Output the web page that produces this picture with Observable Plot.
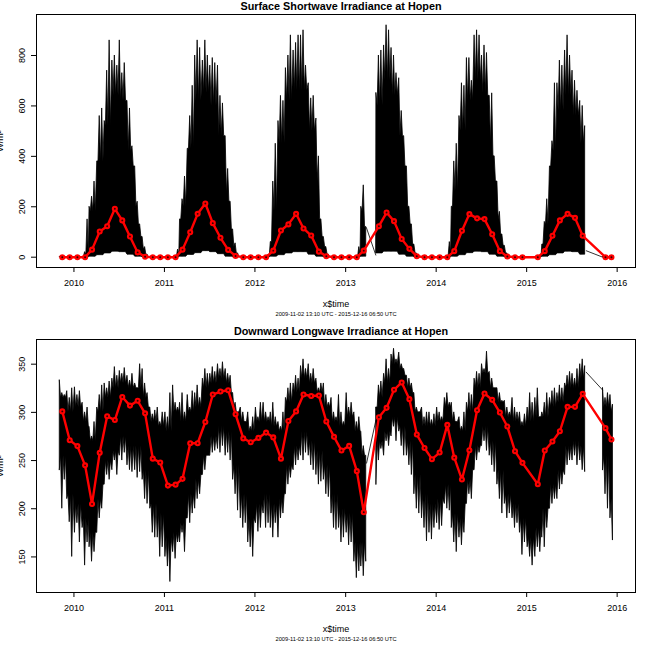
<!DOCTYPE html>
<html><head><meta charset="utf-8">
<script src="https://cdn.jsdelivr.net/npm/d3@7"></script>
<script src="https://cdn.jsdelivr.net/npm/@observablehq/plot@0.6"></script>
<style>body{margin:0;background:#fff;} svg{display:block}</style>
</head><body>
<script>
// tips of the dense black series are read on days 5/15/25 of each month,
// the solid "core" between the tips is read once per month
const sampleDays = [5, 15, 25];
const coreDays = [10, 20, 30];
const firstMonth = {2009: 10}; // 2009 starts in November, other years in January
const years = [2009, 2010, 2011, 2012, 2013, 2014, 2015];

// ---- Surface shortwave: spike tips (3 samples / month) ----
const swHi2009 = [0,0,0, 0,0,0];
const swHi2010 = [0,0,0, 0,20,150, 200,240,300, 380,560,590, 540,740,860, 780,800,760, 860,730,770, 620,590,440, 360,220,130, 80,40,10, 0,0,0, 0,0,0];
const swHi2011 = [0,0,0, 0,0,30, 150,230,320, 430,560,680, 800,860,830, 780,860,800, 760,790,770, 760,640,610, 480,350,220, 110,55,15, 0,0,0, 0,0,0];
const swHi2012 = [0,0,0, 0,0,10, 60,300,450, 540,640,620, 750,800,880, 820,850,880, 880,900,760, 690,630,640, 550,400,150, 80,40,10, 0,0,0, 0,0,0];
const swHi2013 = [0,0,0, 0,0,40, 200,285,120, null,null,null, 650,800,820, 840,920,900, 830,800,730, 710,580,480, 360,200,130, 50,15,0, 0,0,0, 0,0,0];
const swHi2014 = [0,0,0, 0,0,60, 200,380,450, 560,690,680, 790,790,700, 880,900,880, 800,840,810, 640,650,400, 300,180,90, 45,15,0, 0,0,0, 0,0,0];
const swHi2015 = [0,0,0, 0,0,0, 50,140,230, 360,460,690, 690,780,760, 820,880,800, 740,700,660, 620,600,520, null,null,null, null,null,null, 0,0,0, 0,0];
// shortwave solid core top (monthly)
const swCore2009 = [0,0];
const swCore2010 = [0,10,180,380,520,640,620,420,200,30,0,0];
const swCore2011 = [0,10,200,430,620,650,600,480,250,40,0,0];
const swCore2012 = [0,5,180,450,620,660,660,500,300,40,0,0];
const swCore2013 = [0,10,180,null,600,700,640,480,220,20,0,0];
const swCore2014 = [0,20,260,500,620,700,650,450,150,20,0,0];
const swCore2015 = [0,0,130,420,580,640,560,450,null,null,0,0];
// shortwave lower edge (monthly)
const swLo2009 = [0,0];
const swLo2010 = [0,0,2,8,15,22,20,10,2,0,0,0];
const swLo2011 = [0,0,2,9,16,24,20,12,2,0,0,0];
const swLo2012 = [0,0,2,8,15,20,20,10,2,0,0,0];
const swLo2013 = [0,0,2,null,15,22,22,10,2,0,0,0];
const swLo2014 = [0,0,2,8,16,22,20,10,2,0,0,0];
const swLo2015 = [0,0,2,8,15,22,20,10,null,null,0,0];

// ---- Downward longwave: spike tips, upper / lower (3 samples / month) ----
const lwHi2009 = [333,320,318, 322,315,325];
const lwLo2009 = [240,200,230, 210,186,150];
const lwHi2010 = [326,318,322, 310,300,305, 285,275,290, 305,318,328, 330,325,332, 335,347,338, 343,340,346, 338,333,340, 330,325,350, 345,330,320, 305,298,302, 305,290,300];
const lwLo2010 = [175,185,165, 180,141,165, 160,145,155, 175,190,200, 225,235,230, 240,250,235, 255,250,258, 245,240,238, 240,232,238, 230,210,205, 200,175,170, 170,150,160];
const lwHi2011 = [300,295,320, 328,310,305, 310,320,300, 318,305,322, 320,328,315, 335,345,340, 340,347,342, 350,345,352, 345,340,338, 320,310,300, 305,300,290, 300,285,295];
const lwLo2011 = [150,140,124, 155,148,165, 165,175,155, 190,185,195, 200,210,215, 235,240,255, 255,258,260, 262,258,265, 255,258,250, 230,215,198, 190,180,185, 165,160,150];
const lwHi2012 = [305,295,310, 310,300,295, 300,310,295, 290,285,300, 315,325,330, 330,338,335, 348,355,345, 350,340,345, 335,325,330, 330,318,310, 315,300,295, 318,300,290];
const lwLo2012 = [185,176,180, 195,180,185, 180,170,185, 170,190,195, 215,225,232, 240,245,250, 255,250,258, 255,245,240, 235,225,228, 230,215,212, 195,180,178, 180,165,170];
const lwHi2013 = [320,305,310, 300,290,295, 280,265,255, null,null,null, 305,328,332, 340,355,345, 360,366,355, 362,350,345, 338,335,330, 320,305,300, 305,295,300, 300,292,298];
const lwLo2013 = [175,162,165, 145,128,135, 140,130,145, null,null,null, 225,250,262, 255,270,265, 275,285,270, 280,265,255, 255,245,235, 215,200,195, 190,180,166, 175,168,180];
const lwHi2014 = [305,300,295, 315,320,310, 310,300,290, 295,285,300, 310,320,318, 335,342,340, 350,345,363, 342,335,325, 325,320,312, 312,305,300, 315,305,300, 300,290,298];
const lwLo2014 = [185,178,182, 205,200,198, 180,165,155, 170,162,175, 205,215,210, 240,250,258, 265,270,260, 255,245,238, 225,210,195, 205,190,195, 190,180,185, 175,152,165];
const lwHi2015 = [305,320,310, 315,325,295, 300,310,320, 315,322,325, 320,328,325, 330,338,342, 340,335,345, 350,355,348, null,null,null, null,null,null, 325,315,320, 318,308];
const lwLo2015 = [160,150,141, 150,160,155, 170,160,180, 200,205,210, 210,220,225, 235,245,250, 250,255,245, 250,240,238, null,null,null, null,null,null, 240,215,200, 190,167];
// longwave solid core edges (monthly)
const lwCoreHi2009 = [315,300];
const lwCoreLo2009 = [255,215];
const lwCoreHi2010 = [305,290,270,300,315,325,330,325,325,315,290,285];
const lwCoreLo2010 = [205,190,175,210,250,260,275,265,265,240,205,195];
const lwCoreHi2011 = [280,300,290,300,305,325,330,335,330,305,290,280];
const lwCoreLo2011 = [170,175,185,215,230,255,275,285,280,245,215,190];
const lwCoreHi2012 = [290,290,285,280,310,320,335,330,320,305,290,285];
const lwCoreLo2012 = [205,215,205,210,245,265,280,270,260,245,215,200];
const lwCoreHi2013 = [295,280,255,null,315,330,350,345,325,300,285,285];
const lwCoreLo2013 = [195,165,165,null,270,280,295,285,270,235,215,205];
const lwCoreHi2014 = [290,305,290,280,300,325,340,325,310,295,290,285];
const lwCoreLo2014 = [210,225,195,190,230,265,285,270,240,215,205,190];
const lwCoreHi2015 = [290,295,295,305,310,325,325,335,null,null,305,300];
const lwCoreLo2015 = [170,180,200,225,240,265,270,265,null,null,255,210];

// ---- monthly means (red), null = missing month ----
const swMean2009 = [0, 0];
const swMean2010 = [0,0,30,102,123,192,146,82,19,2,0,0];
const swMean2011 = [0,0,30,99,172,213,135,77,29,5,0,0];
const swMean2012 = [0,0,26,106,130,172,114,86,22,4,0,0];
const swMean2013 = [0,0,26,null,123,177,143,72,33,4,0,0];
const swMean2014 = [0,0,24,105,171,154,151,91,24,3,0,0];
const swMean2015 = [null,0,24,85,146,172,156,85,null,null,0,0];
const lwMean2009 = [301, 271];
const lwMean2010 = [265,245,205,258,296,292,316,307,312,299,252,248];
const lwMean2011 = [224,225,231,268,268,290,318.5,321.6,323,298,273,269];
const lwMean2012 = [273.5,279,274,252,291,301,318.5,317,317.5,290.5,274.6,260.4];
const lwMean2013 = [265.2,239,196.4,null,295,304.7,323.4,331,313.7,277,263,251.4];
const lwMean2014 = [258.3,287,253,230.3,260.7,302.2,319.6,313,299.8,285.3,259.7,247.6];
const lwMean2015 = [null,225.4,260.4,269.7,280.4,305.7,305.7,319.2,null,null,283.6,271.8];
const meanDay = 15;
const lastMeanDay = 9; // Dec 2015 (record ends 16 Dec)

// ---- gaps in the record, bridged by a thin line ----
const swGaps = [
  {x1: "2013-03-25", y1: 119, x2: "2013-05-03", y2: 7},
  {x1: "2015-08-28", y1: 26, x2: "2015-11-04", y2: 0}
];
const lwGaps = [
  {x1: "2013-03-26", y1: 247, x2: "2013-05-03", y2: 292},
  {x1: "2015-08-28", y1: 342, x2: "2015-11-04", y2: 323}
];

const yearTicks = [2010, 2011, 2012, 2013, 2014, 2015, 2016];
const swTicks = [0, 200, 400, 600, 800];
const lwTicks = [150, 200, 250, 300, 350];
const xDomain = ["2009-08-03", "2016-03-15"];
const swDomain = [-40.9, 962.7];
const lwDomain = [113.1, 375.6];
const subtitle = "2009-11-02 13:10 UTC - 2015-12-16 06:50 UTC";

// ---- assemble tables ----
const swHi = {2009: swHi2009, 2010: swHi2010, 2011: swHi2011, 2012: swHi2012, 2013: swHi2013, 2014: swHi2014, 2015: swHi2015};
const swCore = {2009: swCore2009, 2010: swCore2010, 2011: swCore2011, 2012: swCore2012, 2013: swCore2013, 2014: swCore2014, 2015: swCore2015};
const swLo = {2009: swLo2009, 2010: swLo2010, 2011: swLo2011, 2012: swLo2012, 2013: swLo2013, 2014: swLo2014, 2015: swLo2015};
const lwHi = {2009: lwHi2009, 2010: lwHi2010, 2011: lwHi2011, 2012: lwHi2012, 2013: lwHi2013, 2014: lwHi2014, 2015: lwHi2015};
const lwLo = {2009: lwLo2009, 2010: lwLo2010, 2011: lwLo2011, 2012: lwLo2012, 2013: lwLo2013, 2014: lwLo2014, 2015: lwLo2015};
const lwCoreHi = {2009: lwCoreHi2009, 2010: lwCoreHi2010, 2011: lwCoreHi2011, 2012: lwCoreHi2012, 2013: lwCoreHi2013, 2014: lwCoreHi2014, 2015: lwCoreHi2015};
const lwCoreLo = {2009: lwCoreLo2009, 2010: lwCoreLo2010, 2011: lwCoreLo2011, 2012: lwCoreLo2012, 2013: lwCoreLo2013, 2014: lwCoreLo2014, 2015: lwCoreLo2015};
const swMean = {2009: swMean2009, 2010: swMean2010, 2011: swMean2011, 2012: swMean2012, 2013: swMean2013, 2014: swMean2014, 2015: swMean2015};
const lwMean = {2009: lwMean2009, 2010: lwMean2010, 2011: lwMean2011, 2012: lwMean2012, 2013: lwMean2013, 2014: lwMean2014, 2015: lwMean2015};

function tipRows(hiBy, loBy, loMonthly) {
  const rows = [];
  for (const y of years) {
    const m0 = firstMonth[y] ?? 0;
    hiBy[y].forEach((hi, i) => {
      const k = Math.floor(i / 3);
      const lo = loMonthly ? loBy[y][k] : loBy[y][i];
      rows.push({date: new Date(Date.UTC(y, m0 + k, sampleDays[i % 3])), hi, lo: hi == null ? null : lo, y, k, j: i % 3});
    });
  }
  return rows;
}
// insert core points between consecutive tips (only inside continuous stretches)
function withCore(tips, coreHiBy, coreLoBy, loMonthlyBy) {
  const out = [];
  tips.forEach((t, i) => {
    out.push(t);
    const n = tips[i + 1];
    if (!n || t.hi == null || n.hi == null) return;
    const hiCore = coreHiBy[t.y][t.k];
    if (hiCore == null) return;
    const hi = Math.min(hiCore, t.hi, n.hi);
    let lo;
    if (coreLoBy) lo = Math.max(coreLoBy[t.y][t.k], t.lo, n.lo);
    else lo = loMonthlyBy[t.y][t.k];
    out.push({date: new Date(Date.UTC(t.y, (firstMonth[t.y] ?? 0) + t.k, coreDays[t.j])), hi, lo: Math.min(lo, hi)});
  });
  return out;
}
function means(by) {
  const rows = [];
  for (const y of years) {
    const m0 = firstMonth[y] ?? 0;
    by[y].forEach((v, i) => {
      if (v == null) return;
      const isLast = y === 2015 && i === by[y].length - 1;
      rows.push({date: new Date(Date.UTC(y, m0 + i, isLast ? lastMeanDay : meanDay)), v});
    });
  }
  return rows;
}
const gapRows = g => g.map(d => ({x1: new Date(d.x1), y1: d.y1, x2: new Date(d.x2), y2: d.y2}));

const swBlack = withCore(tipRows(swHi, swLo, true), swCore, null, swLo);
const lwBlack = withCore(tipRows(lwHi, lwLo, false), lwCoreHi, lwCoreLo, null);

const font = "'Liberation Sans', Arial, Helvetica, sans-serif";

function panel({title, black, gaps, red, yDomain, yTicks}) {
  return Plot.plot({
    width: 650, height: 325,
    marginLeft: 36, marginRight: 15, marginTop: 14, marginBottom: 58,
    style: {fontFamily: font, fontSize: "9px", background: "white", color: "black"},
    x: {type: "utc", domain: xDomain.map(d => new Date(d))},
    y: {domain: yDomain},
    marks: [
      Plot.areaY(black, {x: "date", y1: "lo", y2: "hi", fill: "black", stroke: "black", strokeWidth: 0.8}),
      Plot.link(gaps, {x1: "x1", y1: "y1", x2: "x2", y2: "y2", stroke: "black", strokeWidth: 0.8}),
      Plot.line(red, {x: "date", y: "v", stroke: "red", strokeWidth: 2.4}),
      Plot.dot(red, {x: "date", y: "v", r: 2, stroke: "red", strokeWidth: 2.1, fill: "#300"}),
      Plot.frame({stroke: "black", strokeWidth: 1}),
      Plot.axisX({ticks: yearTicks.map(y => new Date(Date.UTC(y, 0, 1))), tickFormat: d3.utcFormat("%Y"),
        tickSize: 5, tickPadding: 7, label: null, fontSize: 9}),
      Plot.axisY({ticks: yTicks, tickSize: 5, tickFormat: () => "", label: null}),
      Plot.text(yTicks, {y: d => d, text: d => String(d), frameAnchor: "left", dx: -14.5, rotate: -90,
        textAnchor: "middle", lineAnchor: "middle", fontSize: 9}),
      Plot.text([title], {text: d => d, frameAnchor: "top", lineAnchor: "bottom", textAnchor: "middle",
        dy: -5, dx: 5, fontWeight: "bold", fontSize: 10.8}),
      Plot.text(["x$time"], {text: d => d, frameAnchor: "bottom", lineAnchor: "bottom", textAnchor: "middle",
        dy: 39, fontSize: 9}),
      Plot.text([subtitle], {text: d => d, frameAnchor: "bottom", lineAnchor: "bottom", textAnchor: "middle",
        dy: 48, fontSize: 5.7}),
      Plot.text(["W/m²"], {text: d => d, frameAnchor: "left", rotate: -90, lineAnchor: "bottom",
        textAnchor: "middle", dx: -33.5, fontSize: 9})
    ]
  });
}

document.body.append(panel({
  title: "Surface Shortwave Irradiance at Hopen",
  black: swBlack, gaps: gapRows(swGaps), red: means(swMean),
  yDomain: swDomain, yTicks: swTicks
}));
document.body.append(panel({
  title: "Downward Longwave Irradiance at Hopen",
  black: lwBlack, gaps: gapRows(lwGaps), red: means(lwMean),
  yDomain: lwDomain, yTicks: lwTicks
}));
</script>
</body></html>
